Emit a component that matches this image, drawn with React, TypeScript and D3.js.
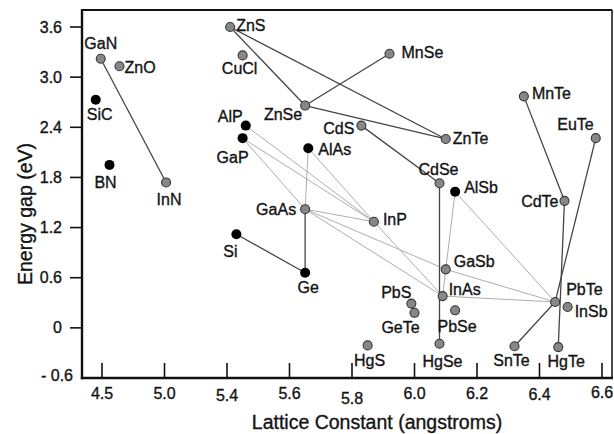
import React from "react";
import * as d3 from "d3";

// ---- data ----
const compounds = ["GaN","ZnO","SiC","BN","InN","ZnS","CuCl","ZnSe","AlP","GaP","AlAs","CdS","MnSe","ZnTe","CdSe","AlSb","MnTe","EuTe","CdTe","GaAs","Si","Ge","InP","GaSb","InAs","PbS","GeTe","PbSe","HgSe","HgS","PbTe","InSb","SnTe","HgTe"];
const latticeConstants = [4.49,4.64,4.45,4.56,5.01,5.41,5.45,5.65,5.46,5.45,5.66,5.83,5.92,6.10,6.08,6.13,6.35,6.58,6.48,5.65,5.43,5.65,5.87,6.10,6.09,5.99,6.00,6.13,6.08,5.85,6.45,6.49,6.32,6.46];
const energyGaps = [3.22,3.13,2.73,1.95,1.74,3.60,3.26,2.66,2.42,2.27,2.15,2.42,3.28,2.26,1.73,1.63,2.77,2.27,1.52,1.42,1.12,0.66,1.27,0.70,0.38,0.29,0.18,0.21,-0.19,-0.21,0.31,0.25,-0.22,-0.23];
const blackCompounds = ["SiC","BN","AlP","GaP","AlAs","Si","Ge","AlSb"];

const darkTies: [string,string][] = [
  ["GaN","InN"],["ZnS","ZnSe"],["ZnS","ZnTe"],["ZnSe","MnSe"],["ZnSe","ZnTe"],
  ["CdS","CdSe"],["CdSe","HgSe"],["MnTe","CdTe"],["CdTe","HgTe"],["EuTe","PbTe"],
  ["PbTe","SnTe"],["Si","Ge"],["GaAs","Ge"],
];
const lightTies: [string,string][] = [
  ["AlP","InP"],["GaP","InP"],["GaP","GaAs"],["AlAs","GaAs"],["AlAs","InP"],
  ["GaAs","InP"],["GaAs","GaSb"],["GaAs","InAs"],["InP","InAs"],["AlSb","GaSb"],
  ["GaSb","InAs"],["AlSb","PbTe"],["GaSb","PbTe"],["InAs","PbTe"],
];

const xTicks = [4.5,5.0,5.4,5.6,5.8,6.0,6.2,6.4,6.6];
const xTickLabels = ["4.5","5.0","5.4","5.6","5.8","6.0","6.2","6.4","6.6"];
const yTicks = [3.6,3.0,2.4,1.8,1.2,0.6,0,-0.6];
const yTickLabels = ["3.6","3.0","2.4","1.8","1.2","0.6","0","- 0.6"];
const xTitle = "Lattice Constant (angstroms)";
const yTitle = "Energy gap (eV)";

// ---- layout ----
const W = 614, H = 434;
const left = 82, top = 10, right = 612, bottom = 378;
const firstTickX = 102, tickStep = 62.5;
const xTickDy = [0,0,2,0,5,0,0,1,-1];

const labelLayout: Record<string,[string,number,number]> = {
  GaN:["middle",0,-10], ZnO:["start",5,7], SiC:["middle",4,20], BN:["middle",-4,23],
  InN:["middle",3,23], ZnS:["start",6,4], CuCl:["middle",-3,19], ZnSe:["end",-3,14],
  AlP:["end",-3,-4], GaP:["middle",-10,25], AlAs:["start",10,7], CdS:["end",-7,8],
  MnSe:["start",12,4], ZnTe:["start",7,5], CdSe:["middle",-1,-8], AlSb:["start",9,1],
  MnTe:["start",8,3], EuTe:["end",-2,-8], CdTe:["end",-6,6], GaAs:["end",-9,6],
  Si:["middle",-6,23], Ge:["middle",3,20], InP:["start",9,3], GaSb:["start",8,-2],
  InAs:["start",6,-1], PbS:["end",0,-6], GeTe:["middle",-14,20], PbSe:["middle",2,22],
  HgSe:["middle",3,23], HgS:["middle",2,21], PbTe:["start",11,-7], InSb:["start",7,10],
  SnTe:["middle",-3,20], HgTe:["middle",8,20],
};

const FONT = "Arial, 'Liberation Sans', Helvetica, sans-serif";
const INK = "#141414";

export default function App() {
  const x = d3.scaleLinear()
    .domain(xTicks)
    .range(xTicks.map((_, i) => firstTickX + i * tickStep));
  const y = d3.scaleLinear().domain([-0.6, 3.6]).range([bottom, 27]);

  const pos: Record<string,[number,number]> = {};
  compounds.forEach((c, i) => { pos[c] = [x(latticeConstants[i]), y(energyGaps[i])]; });

  const line = d3.line<[number,number]>();
  const textProps = { fill: INK, stroke: INK, strokeWidth: 0.35 };

  return (
    <svg width={W} height={H} style={{ position: "absolute", left: 0, top: 0, background: "#fff" }}
      fontFamily={FONT}>
      <rect x={0} y={0} width={W} height={H} fill="#fff" />
      {/* ties */}
      {lightTies.map(([a, b], i) => (
        <path key={"l" + i} d={line([pos[a], pos[b]]) || ""} stroke="#a4a4a4" strokeWidth={0.9} fill="none" />
      ))}
      {darkTies.map(([a, b], i) => (
        <path key={"d" + i} d={line([pos[a], pos[b]]) || ""} stroke="#454545" strokeWidth={1.3} fill="none" />
      ))}
      {/* frame */}
      <line x1={left} y1={top} x2={right} y2={top} stroke="#111" strokeWidth={2} />
      <line x1={right} y1={top} x2={right} y2={bottom} stroke="#111" strokeWidth={1.5} />
      <line x1={left} y1={top - 1} x2={left} y2={bottom + 1.2} stroke="#111" strokeWidth={2.4} />
      <line x1={left - 1.2} y1={bottom} x2={right + 1} y2={bottom} stroke="#111" strokeWidth={2.4} />
      {/* x ticks */}
      {xTicks.map((t, i) => (
        <g key={"xt" + i}>
          <line x1={x(t)} x2={x(t)} y1={bottom} y2={bottom - 15} stroke="#111" strokeWidth={1.6} />
          <text x={x(t)} y={bottom + 21 + xTickDy[i]} textAnchor="middle" fontSize={16} {...textProps}>{xTickLabels[i]}</text>
        </g>
      ))}
      {/* y ticks */}
      {yTicks.map((t, i) => {
        const isLast = t === -0.6;
        return (
          <g key={"yt" + i}>
            {!isLast && <line x1={left - 12} x2={left} y1={y(t)} y2={y(t)} stroke="#111" strokeWidth={1.6} />}
            <text x={isLast ? 73 : 62} y={(isLast ? y(t) - 3 : y(t)) + 5.5} textAnchor="end" fontSize={16} {...textProps}>{yTickLabels[i]}</text>
          </g>
        );
      })}
      {/* markers */}
      {compounds.map((c) => {
        const [px, py] = pos[c];
        const black = blackCompounds.includes(c);
        return black ? (
          <circle key={"m" + c} cx={px} cy={py} r={5} fill="#000" />
        ) : (
          <circle key={"m" + c} cx={px} cy={py} r={4.5} fill="#878787" stroke="#353535" strokeWidth={1.1} />
        );
      })}
      {/* labels */}
      {compounds.map((c) => {
        const [px, py] = pos[c];
        const [anchor, dx, dy] = labelLayout[c];
        return (
          <text key={"t" + c} x={px + dx} y={py + dy} textAnchor={anchor as any} fontSize={16} {...textProps}>{c}</text>
        );
      })}
      {/* titles */}
      <text x={377} y={429} textAnchor="middle" fontSize={19.5} {...textProps}>{xTitle}</text>
      <text transform={`translate(32,214) rotate(-90)`} textAnchor="middle" fontSize={19.5} {...textProps}>{yTitle}</text>
    </svg>
  );
}
